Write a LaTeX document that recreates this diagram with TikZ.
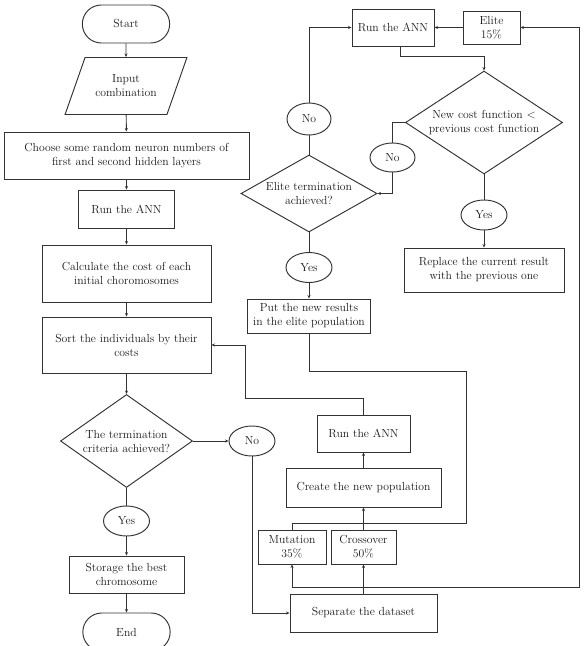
\documentclass[tikz,border=0pt]{standalone}
\usepackage{amsmath}
\usepackage{amsfonts}
\usepackage{tikz}
\usetikzlibrary{shapes.geometric,shapes.misc,arrows.meta}

\begin{document}
\begin{tikzpicture}[x=1pt,y=-1pt,
        txt/.style={font=\fontsize{11.7}{14}\selectfont,text=black!90,align=center,draw=black!80,line width=0.95pt},
        box/.style={txt,rectangle,inner sep=2pt},
        term/.style={txt,rounded rectangle,minimum width=94pt,minimum height=38pt},
        io/.style={txt,trapezium,trapezium left angle=60,trapezium right angle=120,trapezium stretches=true,minimum width=122pt,minimum height=57pt},
        decision/.style={txt,diamond,inner sep=0pt},
        answer/.style={txt,ellipse,minimum width=46pt,minimum height=30pt,inner sep=0pt},
        flow/.style={draw=black!80,line width=0.95pt},
        arr/.style={flow,-{Stealth[length=3.5pt,width=3pt]}}]
        \useasboundingbox (0,0) rectangle (585,646);
        \node[term] (start) at (126,24) {Start};
        \node[io] (input) at (126,86) {Input\\combination};
        \node[box,minimum width=245pt,minimum height=47pt] (choose) at (126.5,155.5) {Choose some random neuron numbers of\\first and second hidden layers};
        \node[box,minimum width=96pt,minimum height=38pt] (ann1) at (126.5,209) {Run the ANN};
        \node[box,minimum width=169pt,minimum height=57pt] (calc) at (126.5,273.5) {Calculate the cost of each\\initial choromosomes};
        \node[box,minimum width=169pt,minimum height=56pt] (sort) at (126.5,345) {Sort the individuals by their\\costs};
        \node[decision,aspect=1.42,minimum width=132pt,minimum height=93pt] (crit) at (126.5,441) {The termination\\criteria achieved?};
        \node[answer] (yes1) at (126.5,521) {Yes};
        \node[box,minimum width=115pt,minimum height=37pt] (store) at (126.5,574.5) {Storage the best\\chromosome};
        \node[term] (finish) at (126.5,632) {End};
        \node[answer] (no1) at (252,441) {No};
        \node[box,minimum width=147pt,minimum height=38pt] (split) at (363.5,613) {Separate the dataset};
        \node[box,minimum width=68pt,minimum height=34pt] (mut) at (292,547) {Mutation\\35\%};
        \node[box,minimum width=65pt,minimum height=34pt] (cross) at (363.5,547) {Crossover\\50\%};
        \node[box,minimum width=155pt,minimum height=39pt] (create) at (363.5,487.5) {Create the new population};
        \node[box,minimum width=93pt,minimum height=37pt] (ann3) at (363.5,433.5) {Run the ANN};
        \node[box,minimum width=82pt,minimum height=37pt] (ann2) at (393,27.5) {Run the ANN};
        \node[box,minimum width=57pt,minimum height=33pt] (elite) at (491.5,27.5) {Elite\\15\%};
        \node[decision,aspect=1.52,minimum width=157pt,minimum height=103pt] (cost) at (484,122.5) {New cost function $<$\\previous cost function};
        \node[answer,minimum width=45pt,minimum height=29pt] (no3) at (392.5,157.5) {No};
        \node[decision,aspect=1.77,minimum width=136pt,minimum height=77pt] (elt) at (309,193.5) {Elite termination\\achieved?};
        \node[answer,minimum width=44pt,minimum height=32pt] (no2) at (309,119) {No};
        \node[answer] (yes2) at (309,267.5) {Yes};
        \node[box,minimum width=123pt,minimum height=34pt] (put) at (309,316) {Put the new results\\in the elite population};
        \node[answer] (yes3) at (484,215) {Yes};
        \node[box,minimum width=160pt,minimum height=44pt] (repl) at (484,270) {Replace the current result\\with the previous one};
        \coordinate (fork) at (363.5,587);
        \coordinate (edge) at (579,587);
        \coordinate (m1) at (466,523);
        \coordinate (m2) at (309,371);
        \coordinate (s1) at (245,398);
        \draw[arr] (start) -- (input);
        \draw[arr] (input) -- (choose);
        \draw[arr] (choose) -- (ann1);
        \draw[arr] (ann1) -- (calc);
        \draw[arr] (calc) -- (sort);
        \draw[arr] (sort) -- (crit);
        \draw[arr] (crit) -- (no1);
        \draw[flow] (crit) -- (yes1);
        \draw[arr] (yes1) -- (store);
        \draw[arr] (store) -- (finish);
        \draw[arr] (no1) |- (split);
        \draw[arr] (split) -- (cross);
        \draw[arr] (fork) -| (mut);
        \draw[arr] (fork) -- (edge) |- (elite);
        \draw[arr] (cross) -- (create);
        \draw[flow] (mut) |- (m1) |- (m2) -- (put);
        \draw[arr] (create) -- (ann3);
        \draw[arr] (ann3) |- (s1) |- (sort);
        \draw[arr] (elite) -- (ann2);
        \draw[arr] ([xshift=7pt]ann2.south) -- ++(0,10) -| (cost);
        \draw[flow] (cost) -| (no3);
        \draw[arr] (no3) |- (elt);
        \draw[flow] (elt) -- (no2);
        \draw[arr] (no2) |- (ann2);
        \draw[flow] (elt) -- (yes2);
        \draw[arr] (yes2) -- (put);
        \draw[flow] (cost) -- (yes3);
        \draw[arr] (yes3) -- (repl);
\end{tikzpicture}
\end{document}
